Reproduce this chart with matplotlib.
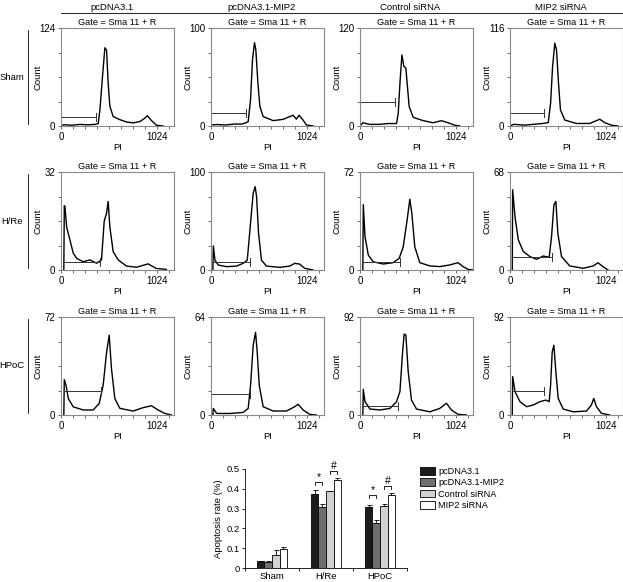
import matplotlib.pyplot as plt
from matplotlib.patches import Patch

plt.rcParams['font.family'] = ['Liberation Sans', 'DejaVu Sans']

# column / row headers
groups = ['pcDNA3.1', 'pcDNA3.1-MIP2', 'Control siRNA', 'MIP2 siRNA']
conditions = ['Sham', 'H/Re', 'HPoC']
count_max = [[124, 100, 120, 116], [32, 100, 72, 68], [72, 64, 92, 92]]

# gate marker (start PI, end PI, count level) per panel
gate_start = [[0, 0, 0, 0], [35, 25, 35, 28], [35, 0, 35, 28]]
gate_end = [[370, 370, 370, 364], [413, 413, 424, 448], [420, 413, 406, 364]]
gate_level = [[11, 13, 29, 15], [2.7, 8.5, 6, 8.8], [17.6, 13.5, 8.7, 22.5]]

# PI histograms
sham_pc_pi = [0, 40, 120, 200, 280, 360, 395, 413, 441, 466, 484, 501, 519, 554, 625, 700, 766, 836, 880, 918, 960, 1013, 1084]
sham_pc_cnt = [1, 1.5, 1, 2, 1.5, 2, 3, 20, 63, 99, 96, 54, 25, 12, 8, 5, 4, 5.5, 9, 13, 7, 1, 0]
sham_mip_pi = [0, 60, 150, 250, 330, 360, 395, 420, 441, 462, 476, 498, 519, 554, 660, 766, 836, 872, 907, 935, 978, 1013, 1084]
sham_mip_cnt = [1, 1.5, 1, 2, 2, 3, 4.4, 27, 68, 85, 78, 44, 20, 9.6, 5.5, 6.8, 9.6, 11, 7, 11, 6, 1, 0]
sham_ctl_pi = [0, 30, 100, 200, 300, 388, 406, 424, 445, 466, 487, 501, 522, 565, 670, 776, 865, 935, 1006, 1059]
sham_ctl_cnt = [0, 4, 2, 2, 3, 3, 15.6, 52, 87, 73, 71, 52, 24, 10.6, 6.6, 4, 6.5, 4, 1, 0]
sham_si_pi = [0, 40, 150, 250, 350, 406, 431, 452, 476, 494, 515, 536, 582, 706, 847, 953, 1006, 1076, 1147]
sham_si_cnt = [0, 2, 1, 2, 3, 4, 27, 70, 98, 90, 51, 19, 7, 3, 3, 8, 4, 1, 0]

hre_pc_pi = [30, 35, 42, 60, 95, 130, 166, 236, 307, 378, 430, 459, 484, 501, 519, 554, 607, 695, 801, 925, 1013, 1119]
hre_pc_cnt = [0, 21, 20.7, 14, 9.8, 5.5, 3.8, 2.7, 3.3, 2.2, 3.3, 16, 18.6, 22.4, 14, 6, 3.3, 1.3, 0.9, 2, 0.5, 0.2]
hre_mip_pi = [20, 25, 42, 78, 166, 272, 342, 385, 420, 448, 469, 484, 505, 536, 589, 731, 836, 889, 942, 995, 1084]
hre_mip_cnt = [0, 24.6, 10, 5, 3.4, 4, 6.8, 10, 48, 78.5, 85, 75, 37.5, 10, 4, 2.7, 4, 6.8, 6, 1.7, 0]
hre_ctl_pi = [30, 35, 53, 88, 141, 247, 353, 416, 459, 501, 529, 550, 582, 635, 741, 847, 953, 1041, 1094, 1147, 1200]
hre_ctl_cnt = [0, 48, 24.6, 11, 6, 4.4, 5.4, 8.6, 17, 37, 52, 42, 17, 5.4, 3, 2.5, 3.7, 5.4, 2.5, 0.5, 0]
hre_si_pi = [24, 28, 53, 88, 141, 212, 282, 353, 416, 441, 466, 487, 508, 547, 635, 776, 882, 935, 988, 1041]
hre_si_cnt = [0, 55.7, 37, 21, 12.8, 9.3, 7.4, 9.7, 8.8, 23, 45, 47.6, 25.5, 9.3, 2.8, 1.2, 2.8, 5, 2.3, 0]

hpoc_pc_pi = [30, 35, 53, 78, 130, 236, 342, 406, 448, 484, 512, 536, 572, 625, 766, 872, 960, 1030, 1101, 1172]
hpoc_pc_cnt = [0, 26, 22, 12, 6, 3.7, 3.7, 8.5, 22, 46, 58.6, 34, 12, 4.9, 2.9, 5.4, 6.8, 3.7, 1.2, 0]
hpoc_mip_pi = [20, 25, 60, 201, 342, 395, 420, 448, 473, 491, 512, 554, 660, 801, 889, 925, 978, 1048, 1119]
hpoc_mip_cnt = [0, 4.3, 1, 1, 1.7, 4.3, 19.5, 45.6, 54, 41, 19.5, 5.4, 2.6, 2.6, 5.4, 7, 3.3, 0.4, 0]
hpoc_ctl_pi = [30, 35, 53, 106, 212, 318, 388, 424, 452, 469, 487, 512, 547, 600, 741, 847, 918, 971, 1041, 1129]
hpoc_ctl_cnt = [0, 24, 12.5, 5.6, 4.7, 6.2, 12.5, 22, 59, 76, 75, 40.5, 14, 5.6, 3, 6.2, 11, 4.7, 0.6, 0]
hpoc_si_pi = [24, 28, 53, 106, 176, 247, 318, 381, 416, 431, 448, 466, 487, 512, 565, 671, 812, 865, 889, 918, 971, 1059]
hpoc_si_cnt = [0, 36, 22, 12.5, 7.8, 9.4, 12.5, 14, 12.5, 28, 59, 65.5, 40.5, 15.6, 5.6, 3, 3.7, 9.4, 15.6, 7.8, 1.6, 0]

hist_pi = [[sham_pc_pi, sham_mip_pi, sham_ctl_pi, sham_si_pi],
           [hre_pc_pi, hre_mip_pi, hre_ctl_pi, hre_si_pi],
           [hpoc_pc_pi, hpoc_mip_pi, hpoc_ctl_pi, hpoc_si_pi]]
hist_cnt = [[sham_pc_cnt, sham_mip_cnt, sham_ctl_cnt, sham_si_cnt],
            [hre_pc_cnt, hre_mip_cnt, hre_ctl_cnt, hre_si_cnt],
            [hpoc_pc_cnt, hpoc_mip_cnt, hpoc_ctl_cnt, hpoc_si_cnt]]

# apoptosis rate bar chart
rate_pc = [0.035, 0.372, 0.308]
rate_mip = [0.032, 0.308, 0.225]
rate_ctl = [0.068, 0.387, 0.315]
rate_si = [0.095, 0.445, 0.367]
err_pc = [0.002, 0.02, 0.012]
err_mip = [0.002, 0.013, 0.018]
err_ctl = [0.025, 0.003, 0.01]
err_si = [0.012, 0.012, 0.01]

W, H = 623, 582
fig = plt.figure(figsize=(W / 100, H / 100), dpi=100)


def px(x0, y0, w, h):
    return [x0 / W, 1 - (y0 + h) / H, w / W, h / H]


col_left = [61, 211, 360, 510]
row_top = [28, 172, 317]
pw, ph = 113, 98

for r in range(3):
    for c in range(4):
        ax = fig.add_axes(px(col_left[c], row_top[r], pw, ph))
        m = count_max[r][c]
        ax.plot(hist_pi[r][c], hist_cnt[r][c], color='black', lw=1.0)
        gl = gate_level[r][c]
        ax.plot([gate_start[r][c], gate_end[r][c]], [gl, gl], color='#333333', lw=0.7)
        ax.plot([gate_end[r][c]] * 2, [gl - 0.04 * m, gl + 0.04 * m], color='#333333', lw=0.7)
        ax.set_xlim(0, 1200)
        ax.set_ylim(0, m)
        ax.set_yticks([0, m / 4, m / 2, 3 * m / 4, m])
        ax.set_yticklabels(['0', '', '', '', str(m)])
        ax.set_xticks(list(range(0, 1201, 128)))
        ax.set_xticklabels(['0' if t == 0 else ('1024' if t == 1024 else '') for t in range(0, 1201, 128)])
        ax.tick_params(length=2.5, width=0.6, color='#555555', labelsize=7, pad=1.5)
        for sp in ax.spines.values():
            sp.set_color('#8a8a8a')
            sp.set_linewidth(0.8)
        ax.set_title('Gate = Sma 11 + R', fontsize=6.6, pad=2)
        ax.set_xlabel('PI', fontsize=6.8, labelpad=1)
        ax.set_ylabel('Count', fontsize=6.8)
        ax.yaxis.set_label_coords(-0.16, 0.5)

# column headers and separator line
for c in range(4):
    fig.text((col_left[c] + pw / 2 - 6) / W, 1 - 7 / H, groups[c], ha='center', va='center', fontsize=6.8)
fig.add_artist(plt.Line2D([61 / W, 1], [1 - 13 / H] * 2, color='black', lw=0.6))

# row labels
for r in range(3):
    yc = row_top[r] + ph / 2
    fig.text(12 / W, 1 - yc / H, conditions[r], ha='center', va='center', fontsize=6.8)
    fig.add_artist(plt.Line2D([28 / W] * 2, [1 - (row_top[r] + 2) / H, 1 - (row_top[r] + ph - 2) / H],
                              color='black', lw=0.6))

# bar chart
bx = fig.add_axes(px(245, 469, 162, 99))
rates = [rate_pc, rate_mip, rate_ctl, rate_si]
errs = [err_pc, err_mip, err_ctl, err_si]
colors = ['#1c1c1c', '#6e6e6e', '#d2d2d2', 'white']
bw = 0.14
offs = [-1.5 * bw, -0.5 * bw, 0.5 * bw, 1.5 * bw]
pos = list(range(len(conditions)))
for k in range(4):
    xs = [p + offs[k] for p in pos]
    bx.bar(xs, rates[k], width=bw, color=colors[k], edgecolor='black', lw=0.6, zorder=2)
    bx.errorbar(xs, rates[k], yerr=[[0] * 3, errs[k]], fmt='none', ecolor='black',
                elinewidth=0.6, capsize=1.8, capthick=0.6, zorder=1)


def bracket(x1, x2, y, label):
    d = 0.014
    bx.plot([x1, x1, x2, x2], [y, y + d, y + d, y], color='black', lw=0.6, clip_on=False)
    bx.text((x1 + x2) / 2, y + d + 0.002, label, ha='center', va='bottom', fontsize=7.5)


bracket(1 + offs[0], 1 + offs[1], 0.418, '*')
bracket(1 + offs[2], 1 + offs[3], 0.475, '#')
bracket(2 + offs[0], 2 + offs[1], 0.353, '*')
bracket(2 + offs[2], 2 + offs[3], 0.400, '#')

bx.set_xlim(-0.5, 2.5)
bx.set_ylim(0, 0.5)
bx.set_yticks([0, 0.1, 0.2, 0.3, 0.4, 0.5])
bx.set_yticklabels(['0', '0.1', '0.2', '0.3', '0.4', '0.5'])
bx.set_xticks([-0.5, 0.5, 1.5, 2.5])
bx.set_xticklabels([])
bx.set_xticks(pos, minor=True)
bx.set_xticklabels(conditions, minor=True)
bx.tick_params(which='both', labelsize=6.8, length=2.5, width=0.6, pad=1.5)
bx.tick_params(axis='x', which='minor', length=0, pad=3)
bx.spines['top'].set_visible(False)
bx.spines['right'].set_visible(False)
for s in ['left', 'bottom']:
    bx.spines[s].set_linewidth(0.6)
bx.set_ylabel('Apoptosis rate (%)', fontsize=6.8, labelpad=2)

handles = [Patch(facecolor=colors[k], edgecolor='black', lw=0.6) for k in range(4)]
fig.legend(handles, groups, loc='upper left', bbox_to_anchor=(420 / W, 1 - 467 / H),
           frameon=False, fontsize=6.6, handlelength=1.6, handleheight=0.9,
           labelspacing=0.25, handletextpad=0.4, borderaxespad=0, borderpad=0)

fig.savefig('out.png', dpi=100)
